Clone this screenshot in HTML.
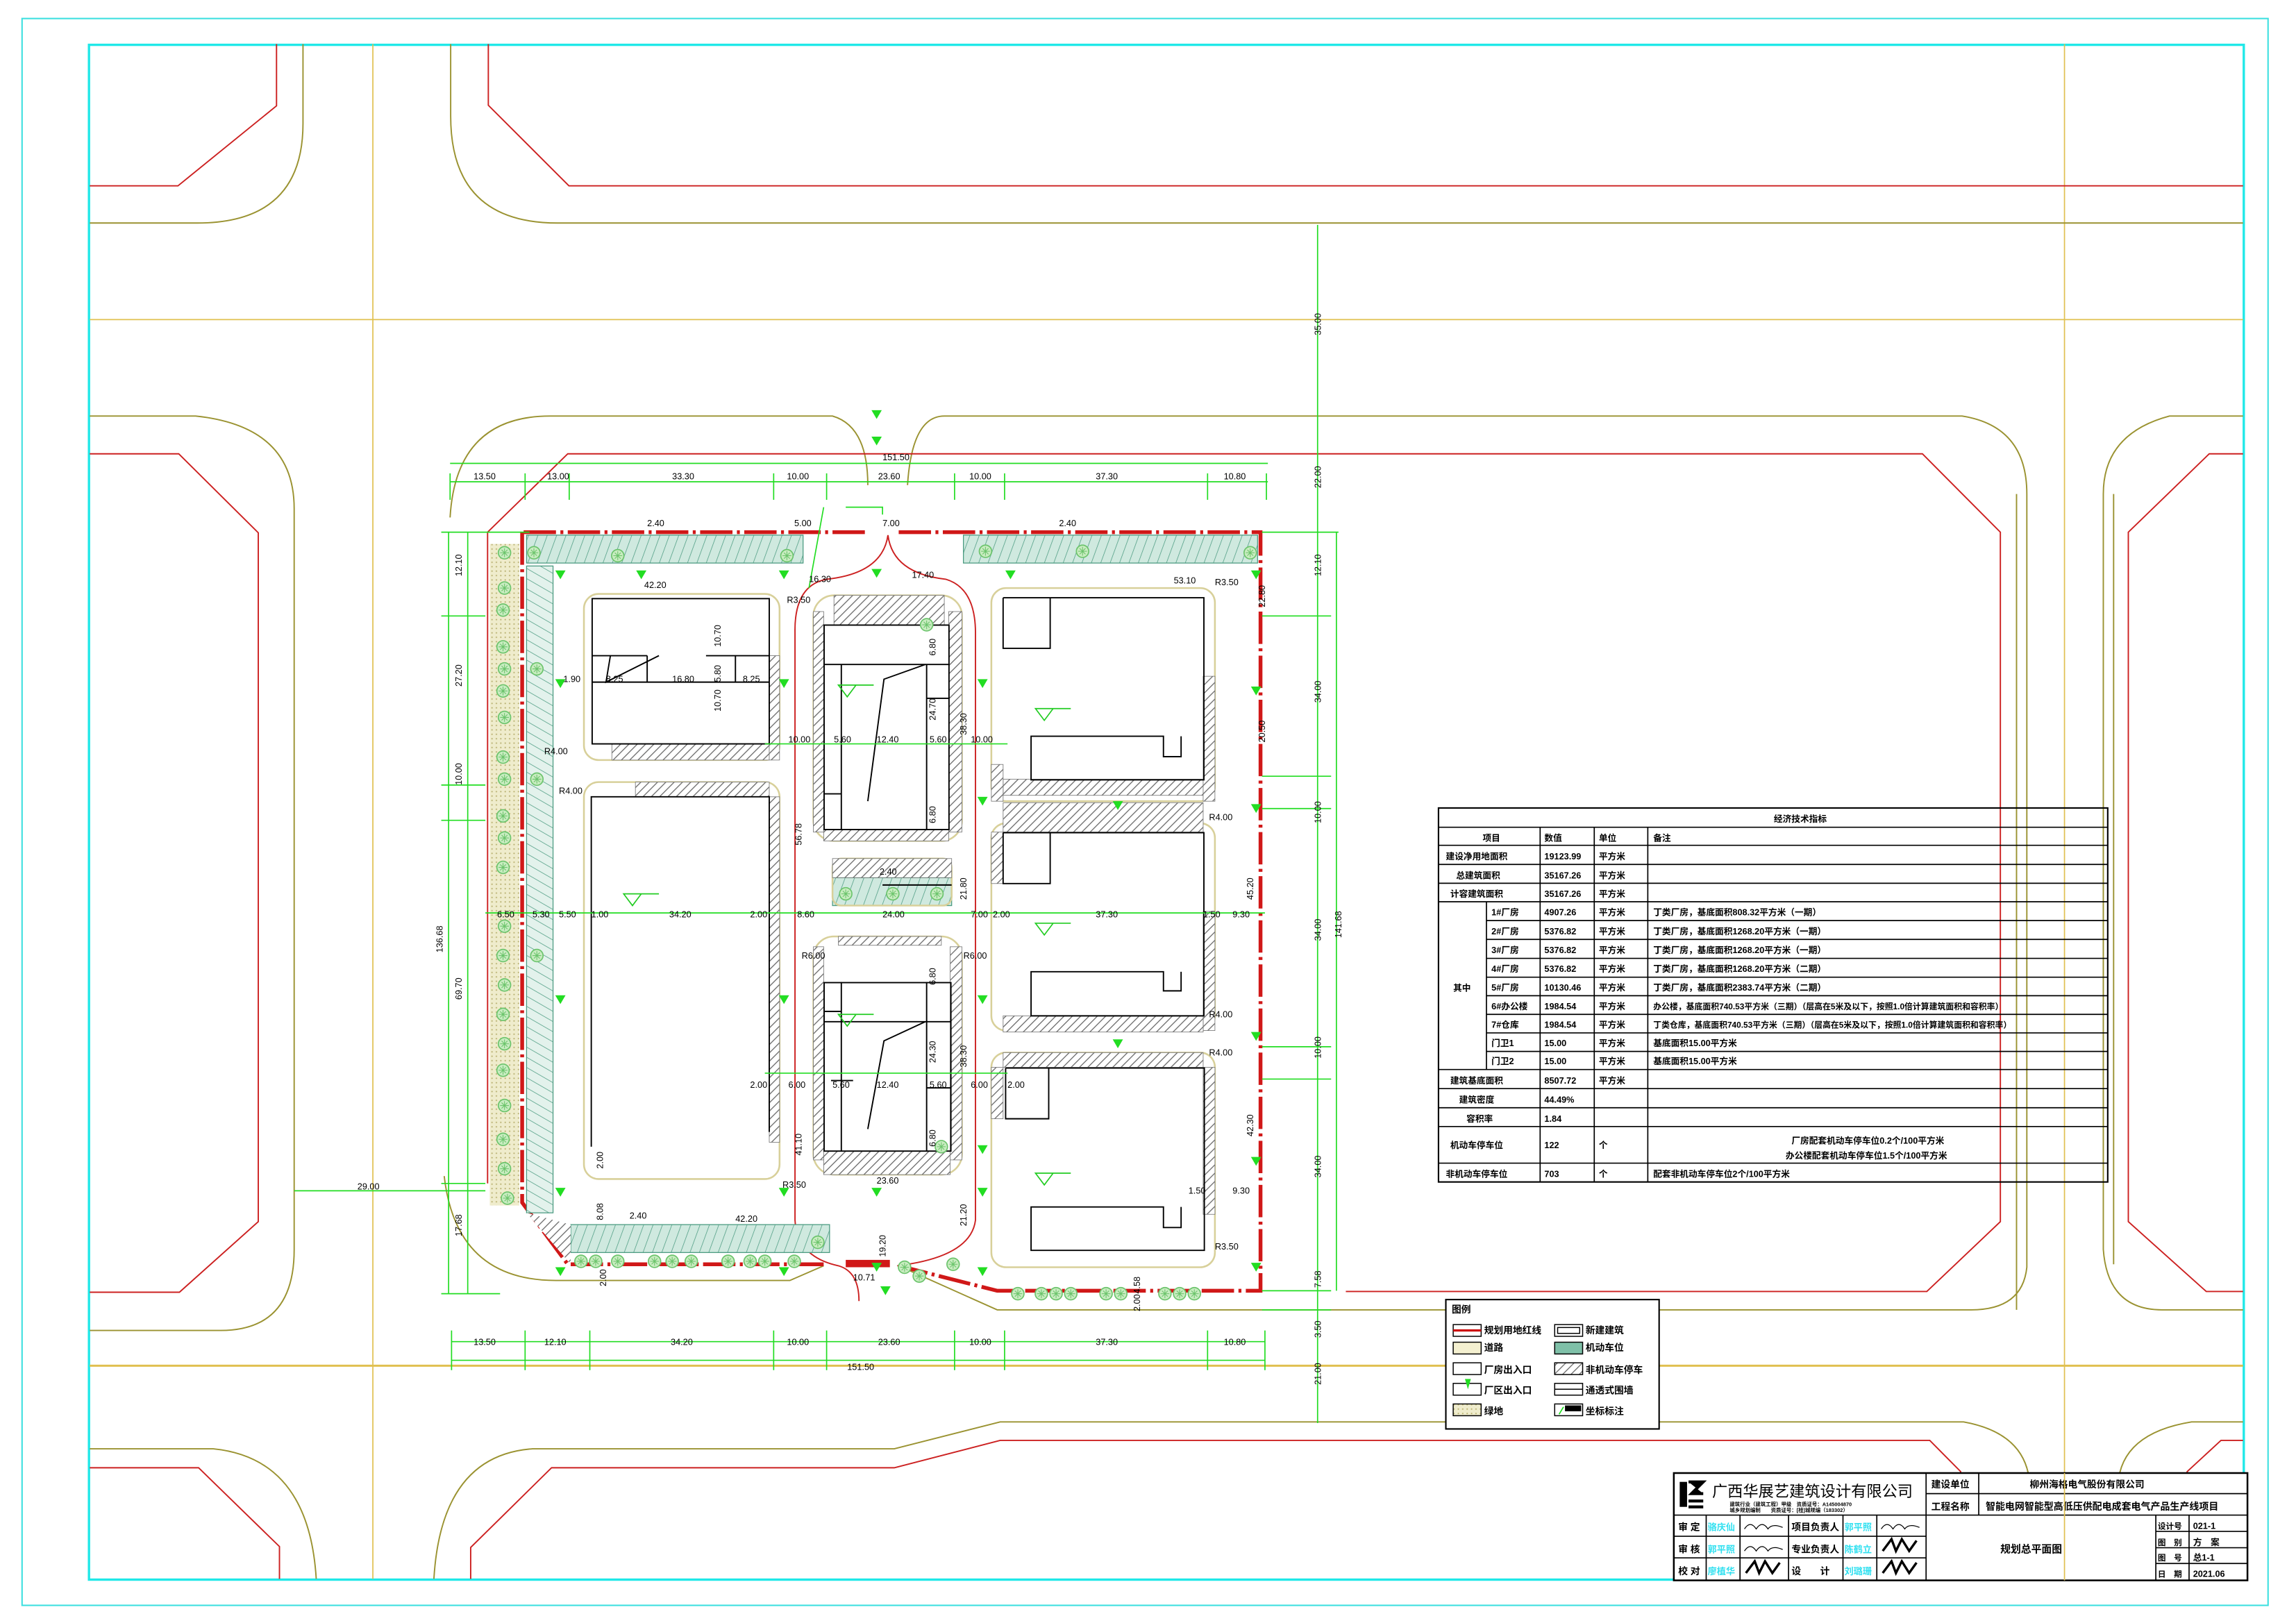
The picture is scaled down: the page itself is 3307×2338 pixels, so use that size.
<!DOCTYPE html>
<html><head><meta charset="utf-8"><style>
html,body{margin:0;padding:0;background:#fff;}
svg{display:block;}
text{font-family:"Liberation Sans Narrow","Liberation Sans","Noto Sans CJK SC",sans-serif;}
.cj{font-family:"Liberation Sans","Noto Sans CJK SC",sans-serif;font-weight:bold;}
.d{font-size:6px;fill:#000;}
</style></head><body>
<svg width="3307" height="2338" viewBox="0 0 1561 1104" preserveAspectRatio="none" xmlns="http://www.w3.org/2000/svg">
<defs>
<pattern id="hat" width="4" height="4" patternUnits="userSpaceOnUse" patternTransform="rotate(45)"><rect width="4" height="4" fill="#fff"/><line x1="0" y1="0" x2="0" y2="4" stroke="#666" stroke-width="1.2"/></pattern>
<pattern id="park" width="6" height="6" patternUnits="userSpaceOnUse" patternTransform="rotate(20)"><rect width="6" height="6" fill="#cfe9df"/><line x1="0" y1="0" x2="0" y2="6" stroke="#4a9a80" stroke-width="0.7"/></pattern>
<pattern id="parkv" width="6" height="6" patternUnits="userSpaceOnUse" patternTransform="rotate(-60)"><rect width="6" height="6" fill="#e3f2ec"/><line x1="0" y1="0" x2="0" y2="6" stroke="#4a9a80" stroke-width="0.7"/></pattern>
<pattern id="grn" width="3" height="3" patternUnits="userSpaceOnUse"><rect width="3" height="3" fill="#efeccc"/><circle cx="1.5" cy="1.5" r="0.5" fill="#b8b070"/></pattern>
<g id="tr"><circle r="4.2" fill="#c8ecc0" stroke="#6cc46c" stroke-width="0.8"/><path d="M-3,0H3M0,-3V3M-2,-2L2,2M2,-2L-2,2" stroke="#6cc46c" stroke-width="0.5"/></g>
<path id="tri" d="M-3.5,-3 L3.5,-3 L0,3Z" fill="#22dd22"/>
</defs>
<rect width="1561" height="1104" fill="#fff"/>
<rect x="15" y="12.6" width="1527" height="1079.4" fill="none" stroke="#40e0e0" stroke-width="1"/>
<rect x="60.5" y="30.5" width="1465" height="1044" fill="none" stroke="#20e8e8" stroke-width="1.6"/>

<g stroke="#e0c050" stroke-width="0.8" fill="none">
<line x1="61" y1="217.4" x2="1525" y2="217.4"/>
<line x1="61" y1="929" x2="1525" y2="929" stroke-width="1.4"/>
<line x1="253.5" y1="30" x2="253.5" y2="1074"/>
<line x1="1403.6" y1="30" x2="1403.6" y2="1074"/>
</g>
<g stroke="#9a9230" stroke-width="0.9" fill="none">
<path d="M206,30 V84 Q206,151.7 134,151.7 H61"/>
<path d="M306.4,30 V79 Q306.4,151.7 379,151.7 H1525"/>
<path d="M61,283 H133 Q200,290 200,346 V850 Q200,905 150,905 H61"/>
<path d="M306,352 Q310,283 374,283 H566 Q590,290 590,330"/>
<path d="M617,330 Q620,283 642,283 H1334 Q1378,290 1378,336 V862 Q1375,891 1340,891 H678 L611,861"/>
<path d="M1525,283 H1475 Q1430,295 1430,336 V850 Q1433,891 1470,891 H1525"/>
<path d="M302,800 Q310,871 378,871 H537 L560,861"/>
<path d="M61,985.5 H145 Q210,992 215,1074"/>
<path d="M295,1074 Q300,990 362,985.5 H608 L680,967.2 H1335 Q1378,975 1380,1010 V1074"/>
<path d="M1525,967.2 H1490 Q1442,975 1440,1010 V1074"/>
<line x1="1371" y1="336" x2="1371" y2="891"/><line x1="1437" y1="336" x2="1437" y2="860"/>
</g>
<g stroke="#cc2020" stroke-width="0.9" fill="none">
<path d="M188,30 V72 L121,126.4 H61"/>
<path d="M332,30 V71.6 L386.8,126.4 H1525"/>
<path d="M61,308.7 H121.5 L175.6,362.4 V831 L122,879 H61"/>
<path d="M331.5,805 V362 L386,308.7 H1307 L1360,362 V831 L1310,878.5 H915"/>
<path d="M1525,308.7 H1502 L1447,362 V831 L1500,878.5 H1525"/>
<path d="M61,998.4 H135 L190,1052 V1074"/>
<path d="M320,1074 V1052.6 L375,998.4 H608 L680,979.8 H1312 L1333,1001 V1074"/>
<path d="M1525,979.8 H1510 L1487,1001 V1074"/>
<path d="M603.7,364 Q600,390 562,394 Q540,398 540.5,430 V830 Q542,855 570,861 Q584,865 584,885"/>
<path d="M603.7,364 Q607,390 643,394 Q663,400 663.2,430 V830 Q660,855 610,861"/>
</g>
<path d="M356,362 H590 M611,362 H857 V878 H678 L611,861 M560,860 H386 L355,818 V362" stroke="#d01818" stroke-width="2.6" fill="none" stroke-dasharray="22,3,2,3"/>
<rect x="575" y="857" width="30" height="5" fill="#d01818"/>

<rect x="333" y="370" width="20" height="450" fill="url(#grn)"/>
<rect x="358" y="385" width="18" height="440" fill="url(#parkv)" stroke="#4a9a80" stroke-width="0.6"/>
<rect x="358" y="364" width="188" height="19" fill="url(#park)" stroke="#4a9a80" stroke-width="0.6"/>
<rect x="655" y="364" width="200" height="19" fill="url(#park)" stroke="#4a9a80" stroke-width="0.6"/>
<rect x="388" y="833" width="176" height="19" fill="url(#park)" stroke="#4a9a80" stroke-width="0.6"/>
<rect x="566" y="597" width="81" height="19" fill="url(#park)" stroke="#4a9a80" stroke-width="0.6"/>
<path d="M358,825 L388,860 L388,833 Z" fill="url(#hat)"/>

<g stroke="#d8d09a" stroke-width="1.2" fill="none">
<rect x="397" y="404" width="133" height="113" rx="10"/>
<rect x="397" y="532" width="133" height="270" rx="10"/>
<rect x="553" y="405" width="101" height="167" rx="14"/>
<rect x="553" y="637" width="101" height="162" rx="14"/>
<rect x="674" y="400" width="152" height="145" rx="10"/>
<rect x="674" y="560" width="152" height="141" rx="10"/>
<rect x="674" y="716" width="152" height="146" rx="10"/>
<rect x="566" y="584" width="81" height="32" rx="6"/>
</g>
<g fill="url(#hat)" stroke="#777" stroke-width="0.4">
<rect x="416" y="506" width="107" height="11"/><rect x="523" y="446" width="7" height="71"/>
<rect x="432" y="532" width="91" height="10"/><rect x="523" y="542" width="7" height="235"/>
<rect x="553" y="416" width="7" height="150"/><rect x="645" y="416" width="9" height="150"/><rect x="567" y="405" width="75" height="20"/><rect x="560" y="564" width="85" height="8"/>
<rect x="553" y="644" width="7" height="145"/><rect x="646" y="644" width="8" height="145"/><rect x="560" y="783" width="86" height="16"/><rect x="570" y="637" width="70" height="6"/>
<rect x="566" y="584" width="81" height="13"/>
<rect x="682" y="530" width="136" height="11"/><rect x="818" y="460" width="8" height="85"/><rect x="674" y="520" width="8" height="25"/>
<rect x="682" y="546" width="136" height="20"/><rect x="674" y="566" width="8" height="35"/><rect x="818" y="620" width="8" height="81"/>
<rect x="682" y="691" width="136" height="11"/><rect x="682" y="716" width="136" height="10"/><rect x="818" y="726" width="8" height="100"/><rect x="674" y="726" width="8" height="35"/>
</g>
<g stroke="#000" stroke-width="0.9" fill="none">
<rect x="402.6" y="407.2" width="120.4" height="98.8"/>
<path d="M402.6,446 H440 M480,446 H523 M402.6,464 H523 M440,446 V464 M500,446 V464"/>
<path d="M415,446 L412,464 L448,446"/>
<path d="M402,780 V542 H523 V770"/>
<rect x="560.3" y="425.2" width="84.9" height="139.1"/>
<path d="M560.3,452 H645.2 M572,452 V564 M630,452 V564 M560.3,540 H572 M630,475 H645.2"/>
<path d="M629,452 L601,462 L590,545"/>
<rect x="560.3" y="668.4" width="86.2" height="114.6"/>
<path d="M560.3,695 H646.5 M572,668 V783 M630,668 V783 M560.3,688 H572 M630,740 H646.5"/>
<path d="M629,695 L601,708 L590,768"/>
<path d="M682,406.6 H818.5 V530.5 H701 V500.8 H791 V514.7 H803 V500.8 M682,406.6 V441 H714 V406.6"/>
<path d="M682,566.4 H818.5 V691 H701 V661 H791 V674 H803 V661 M682,566.4 V601 H714 V566.4"/>
<path d="M683.7,726.5 H818.8 V850.5 H701 V821 H791 V835 H803 V821 M683.7,726.5 V761 H713 V726.5"/>
<path d="M600,602 H647 M565,735 H580"/>
</g>
<g fill="none" stroke="#22cc22" stroke-width="0.8">
<path d="M424,608 L430,616 L436,608 Z M424,608 H448"/><path d="M704,482 L710,490 L716,482 Z M704,482 H728"/>
<path d="M704,628 L710,636 L716,628 Z M704,628 H728"/><path d="M704,798 L710,806 L716,798 Z M704,798 H728"/>
<path d="M570,466 L576,474 L582,466 Z M570,466 H594"/><path d="M570,690 L576,698 L582,690 Z M570,690 H594"/>
</g>
<g>
<use href="#tr" x="343" y="376"/><use href="#tr" x="343" y="400"/><use href="#tr" x="342" y="415"/><use href="#tr" x="342" y="440"/><use href="#tr" x="343" y="455"/><use href="#tr" x="342" y="470"/><use href="#tr" x="343" y="488"/><use href="#tr" x="342" y="515"/><use href="#tr" x="343" y="530"/><use href="#tr" x="342" y="555"/><use href="#tr" x="343" y="570"/><use href="#tr" x="342" y="590"/><use href="#tr" x="343" y="630"/><use href="#tr" x="342" y="650"/><use href="#tr" x="343" y="670"/><use href="#tr" x="342" y="690"/><use href="#tr" x="343" y="710"/><use href="#tr" x="342" y="728"/><use href="#tr" x="343" y="752"/><use href="#tr" x="342" y="775"/><use href="#tr" x="343" y="795"/><use href="#tr" x="345" y="815"/>
<use href="#tr" x="363" y="376"/><use href="#tr" x="420" y="378"/><use href="#tr" x="535" y="378"/><use href="#tr" x="670" y="375"/><use href="#tr" x="736" y="375"/><use href="#tr" x="850" y="376"/><use href="#tr" x="365" y="455"/><use href="#tr" x="365" y="530"/><use href="#tr" x="365" y="650"/><use href="#tr" x="575" y="608"/><use href="#tr" x="607" y="608"/><use href="#tr" x="637" y="608"/><use href="#tr" x="630" y="425"/><use href="#tr" x="640" y="780"/>
<use href="#tr" x="395" y="858"/><use href="#tr" x="405" y="858"/><use href="#tr" x="420" y="858"/><use href="#tr" x="445" y="858"/><use href="#tr" x="457" y="858"/><use href="#tr" x="470" y="858"/><use href="#tr" x="495" y="858"/><use href="#tr" x="510" y="858"/><use href="#tr" x="520" y="858"/><use href="#tr" x="540" y="858"/><use href="#tr" x="556" y="845"/><use href="#tr" x="615" y="862"/><use href="#tr" x="625" y="868"/><use href="#tr" x="648" y="860"/>
<use href="#tr" x="692" y="880"/><use href="#tr" x="708" y="880"/><use href="#tr" x="718" y="880"/><use href="#tr" x="728" y="880"/><use href="#tr" x="752" y="880"/><use href="#tr" x="762" y="880"/><use href="#tr" x="792" y="880"/><use href="#tr" x="802" y="880"/><use href="#tr" x="812" y="880"/>
</g>
<g>
<use href="#tri" x="596" y="282"/><use href="#tri" x="596" y="300"/><use href="#tri" x="381" y="391"/><use href="#tri" x="436" y="391"/><use href="#tri" x="533" y="391"/><use href="#tri" x="596" y="390"/><use href="#tri" x="687" y="391"/><use href="#tri" x="854" y="391"/>
<use href="#tri" x="381" y="465"/><use href="#tri" x="533" y="465"/><use href="#tri" x="668" y="465"/><use href="#tri" x="854" y="470"/><use href="#tri" x="668" y="545"/><use href="#tri" x="760" y="548"/><use href="#tri" x="854" y="550"/>
<use href="#tri" x="381" y="680"/><use href="#tri" x="533" y="680"/><use href="#tri" x="668" y="680"/><use href="#tri" x="854" y="705"/><use href="#tri" x="760" y="710"/><use href="#tri" x="854" y="790"/><use href="#tri" x="381" y="811"/><use href="#tri" x="533" y="811"/><use href="#tri" x="596" y="811"/><use href="#tri" x="668" y="811"/>
<use href="#tri" x="381" y="865"/><use href="#tri" x="533" y="865"/><use href="#tri" x="596" y="862"/><use href="#tri" x="668" y="865"/><use href="#tri" x="854" y="862"/><use href="#tri" x="602" y="878"/><use href="#tri" x="668" y="782"/>
</g>
<g stroke="#22dd22" stroke-width="0.8" fill="none">
<line x1="895.8" y1="153" x2="895.8" y2="968"/><line x1="908.6" y1="362" x2="908.6" y2="878"/>
<line x1="306" y1="315.2" x2="862" y2="315.2"/><line x1="306" y1="327.7" x2="862" y2="327.7"/>
<line x1="307" y1="912.6" x2="860" y2="912.6"/><line x1="307" y1="925.3" x2="860" y2="925.3"/>
<path d="M306,322 V340 M357,322 V340 M387,322 V340 M526,322 V340 M562,322 V340 M649,322 V340 M683,322 V340 M821,322 V340 M861,322 V340"/>
<path d="M307,905 V932 M357,905 V932 M401,905 V932 M526,905 V932 M562,905 V932 M649,905 V932 M683,905 V932 M821,905 V932 M860,905 V932"/>
<line x1="305" y1="362" x2="305" y2="880"/><line x1="318" y1="362" x2="318" y2="880"/>
<path d="M300,362 H360 M300,419 H330 M300,534 H330 M300,558 H330 M300,805 H330 M300,880 H340"/>
<path d="M858,362 H910 M858,419 H905 M858,528 H905 M858,550 H905 M858,712 H905 M858,734 H905 M858,878 H905 M858,891 H905"/>
<line x1="330" y1="621" x2="860" y2="621"/>
<line x1="520" y1="506" x2="685" y2="506"/><line x1="520" y1="730" x2="685" y2="730"/>
<line x1="200" y1="810" x2="330" y2="810"/>
<path d="M575,345 H600 V350 M560,345 L550,400"/>
</g>
<g class="d">
<text x="600" y="313">151.50</text>
<text x="322" y="326">13.50</text><text x="372" y="326">13.00</text><text x="457" y="326">33.30</text><text x="535" y="326">10.00</text><text x="597" y="326">23.60</text><text x="659" y="326">10.00</text><text x="745" y="326">37.30</text><text x="832" y="326">10.80</text>
<text x="322" y="915">13.50</text><text x="370" y="915">12.10</text><text x="456" y="915">34.20</text><text x="535" y="915">10.00</text><text x="597" y="915">23.60</text><text x="659" y="915">10.00</text><text x="745" y="915">37.30</text><text x="832" y="915">10.80</text>
<text x="576" y="932">151.50</text>
<text x="440" y="358">2.40</text><text x="540" y="358">5.00</text><text x="600" y="358">7.00</text><text x="720" y="358">2.40</text>
<text x="438" y="400">42.20</text><text x="550" y="396">16.30</text><text x="620" y="393">17.40</text><text x="798" y="397">53.10</text>
<text x="383" y="464">1.90</text><text x="412" y="464">8.25</text><text x="457" y="464">16.80</text><text x="505" y="464">8.25</text>
<text x="536" y="505">10.00</text><text x="567" y="505">5.60</text><text x="596" y="505">12.40</text><text x="632" y="505">5.60</text><text x="660" y="505">10.00</text>
<text x="338" y="624">6.50</text><text x="362" y="624">5.30</text><text x="380" y="624">5.50</text><text x="402" y="624">1.00</text><text x="455" y="624">34.20</text><text x="510" y="624">2.00</text><text x="542" y="624">8.60</text><text x="600" y="624">24.00</text><text x="660" y="624">7.00</text><text x="675" y="624">2.00</text><text x="745" y="624">37.30</text><text x="818" y="624">1.50</text><text x="838" y="624">9.30</text>
<text x="510" y="740">2.00</text><text x="536" y="740">6.00</text><text x="566" y="740">5.60</text><text x="596" y="740">12.40</text><text x="632" y="740">5.60</text><text x="660" y="740">6.00</text><text x="685" y="740">2.00</text>
<text x="596" y="805">23.60</text><text x="500" y="831">42.20</text><text x="428" y="829">2.40</text><text x="808" y="812">1.50</text><text x="838" y="812">9.30</text><text x="580" y="871">10.71</text><text x="598" y="595">2.40</text>
<text x="370" y="513">R4.00</text><text x="380" y="540">R4.00</text><text x="822" y="558">R4.00</text><text x="822" y="692">R4.00</text><text x="822" y="718">R4.00</text><text x="826" y="398">R3.50</text><text x="826" y="850">R3.50</text><text x="532" y="808">R3.50</text><text x="545" y="652">R6.00</text><text x="655" y="652">R6.00</text><text x="535" y="410">R3.50</text>
<text x="243" y="809">29.00</text>
</g>
<g class="d">
<text transform="translate(898,228) rotate(-90)">35.00</text><text transform="translate(898,332) rotate(-90)">22.00</text><text transform="translate(898,392) rotate(-90)">12.10</text><text transform="translate(898,478) rotate(-90)">34.00</text><text transform="translate(898,560) rotate(-90)">10.00</text><text transform="translate(898,640) rotate(-90)">34.00</text><text transform="translate(898,720) rotate(-90)">10.00</text><text transform="translate(898,801) rotate(-90)">34.00</text><text transform="translate(898,876) rotate(-90)">7.58</text><text transform="translate(898,910) rotate(-90)">3.50</text><text transform="translate(898,942) rotate(-90)">21.00</text>
<text transform="translate(912,638) rotate(-90)">141.68</text>
<text transform="translate(860,413) rotate(-90)">22.80</text><text transform="translate(860,505) rotate(-90)">20.50</text><text transform="translate(852,612) rotate(-90)">45.20</text><text transform="translate(852,773) rotate(-90)">42.30</text>
<text transform="translate(314,392) rotate(-90)">12.10</text><text transform="translate(314,467) rotate(-90)">27.20</text><text transform="translate(314,534) rotate(-90)">10.00</text><text transform="translate(314,680) rotate(-90)">69.70</text><text transform="translate(314,841) rotate(-90)">17.68</text><text transform="translate(301,648) rotate(-90)">136.68</text>
<text transform="translate(490,440) rotate(-90)">10.70</text><text transform="translate(490,484) rotate(-90)">10.70</text><text transform="translate(490,464) rotate(-90)">5.80</text>
<text transform="translate(636,446) rotate(-90)">6.80</text><text transform="translate(636,490) rotate(-90)">24.70</text><text transform="translate(636,560) rotate(-90)">6.80</text><text transform="translate(657,500) rotate(-90)">38.30</text>
<text transform="translate(636,670) rotate(-90)">6.80</text><text transform="translate(636,723) rotate(-90)">24.30</text><text transform="translate(636,780) rotate(-90)">6.80</text><text transform="translate(657,726) rotate(-90)">38.30</text>
<text transform="translate(545,575) rotate(-90)">56.78</text><text transform="translate(545,786) rotate(-90)">41.10</text><text transform="translate(657,612) rotate(-90)">21.80</text><text transform="translate(657,834) rotate(-90)">21.20</text><text transform="translate(602,855) rotate(-90)">19.20</text>
<text transform="translate(410,795) rotate(-90)">2.00</text><text transform="translate(410,830) rotate(-90)">8.08</text><text transform="translate(412,875) rotate(-90)">2.00</text><text transform="translate(775,880) rotate(-90)">4.58</text><text transform="translate(775,892) rotate(-90)">2.00</text>
</g>

<g stroke="#000" fill="none">
<rect x="978" y="549.6" width="455" height="254.4" stroke-width="1"/>
<path stroke-width="0.8" d="M978,562.7H1433 M978,575H1433 M978,588H1433 M978,600.8H1433 M978,613.4H1433 M1010.6,626.2H1433 M1010.6,639H1433 M1010.6,651.9H1433 M1010.6,664.7H1433 M1010.6,677.3H1433 M1010.6,690H1433 M1010.6,702.6H1433 M1010.6,715.2H1433 M978,727.5H1433 M978,740.5H1433 M978,753.5H1433 M978,766.3H1433 M978,791.2H1433"/>
<path stroke-width="0.8" d="M1047.1,562.7V804 M1083.9,562.7V804 M1120.3,562.7V804 M1010.6,613.4V727.5"/>
</g>
<g class="cj" font-size="6" fill="#000">
<text x="1206" y="559">经济技术指标</text>
<text x="1008" y="572">项目</text><text x="1050" y="572">数值</text><text x="1087" y="572">单位</text><text x="1124" y="572">备注</text>
<text x="983" y="584.5">建设净用地面积</text><text x="1050" y="584.5">19123.99</text><text x="1087" y="584.5">平方米</text>
<text x="990" y="597.5">总建筑面积</text><text x="1050" y="597.5">35167.26</text><text x="1087" y="597.5">平方米</text>
<text x="986" y="610">计容建筑面积</text><text x="1050" y="610">35167.26</text><text x="1087" y="610">平方米</text>
<text x="988" y="674">其中</text>
<text x="1014" y="622.5">1#厂房</text><text x="1050" y="622.5">4907.26</text><text x="1087" y="622.5">平方米</text><text x="1124" y="622.5">丁类厂房，基底面积808.32平方米（一期）</text>
<text x="1014" y="635.5">2#厂房</text><text x="1050" y="635.5">5376.82</text><text x="1087" y="635.5">平方米</text><text x="1124" y="635.5">丁类厂房，基底面积1268.20平方米（一期）</text>
<text x="1014" y="648.3">3#厂房</text><text x="1050" y="648.3">5376.82</text><text x="1087" y="648.3">平方米</text><text x="1124" y="648.3">丁类厂房，基底面积1268.20平方米（一期）</text>
<text x="1014" y="661">4#厂房</text><text x="1050" y="661">5376.82</text><text x="1087" y="661">平方米</text><text x="1124" y="661">丁类厂房，基底面积1268.20平方米（二期）</text>
<text x="1014" y="673.8">5#厂房</text><text x="1050" y="673.8">10130.46</text><text x="1087" y="673.8">平方米</text><text x="1124" y="673.8">丁类厂房，基底面积2383.74平方米（二期）</text>
<text x="1014" y="686.5">6#办公楼</text><text x="1050" y="686.5">1984.54</text><text x="1087" y="686.5">平方米</text><text x="1124" y="686.5" font-size="5.6">办公楼，基底面积740.53平方米（三期）（层高在5米及以下，按照1.0倍计算建筑面积和容积率）</text>
<text x="1014" y="699">7#仓库</text><text x="1050" y="699">1984.54</text><text x="1087" y="699">平方米</text><text x="1124" y="699" font-size="5.6">丁类仓库，基底面积740.53平方米（三期）（层高在5米及以下，按照1.0倍计算建筑面积和容积率）</text>
<text x="1014" y="711.5">门卫1</text><text x="1050" y="711.5">15.00</text><text x="1087" y="711.5">平方米</text><text x="1124" y="711.5">基底面积15.00平方米</text>
<text x="1014" y="724">门卫2</text><text x="1050" y="724">15.00</text><text x="1087" y="724">平方米</text><text x="1124" y="724">基底面积15.00平方米</text>
<text x="986" y="737">建筑基底面积</text><text x="1050" y="737">8507.72</text><text x="1087" y="737">平方米</text>
<text x="992" y="750">建筑密度</text><text x="1050" y="750">44.49%</text>
<text x="997" y="763">容积率</text><text x="1050" y="763">1.84</text>
<text x="986" y="781">机动车停车位</text><text x="1050" y="781">122</text><text x="1087" y="781">个</text>
<text x="1218" y="778">厂房配套机动车停车位0.2个/100平方米</text><text x="1214" y="788">办公楼配套机动车停车位1.5个/100平方米</text>
<text x="983" y="800.5">非机动车停车位</text><text x="1050" y="800.5">703</text><text x="1087" y="800.5">个</text><text x="1124" y="800.5">配套非机动车停车位2个/100平方米</text>
</g>

<rect x="983" y="884" width="145" height="88" fill="#fff" stroke="#000" stroke-width="1"/>
<g class="cj" font-size="6.5" fill="#000">
<text x="987" y="893">图例</text>
<text x="1009" y="907">规划用地红线</text><text x="1009" y="919">道路</text><text x="1009" y="934">厂房出入口</text><text x="1009" y="948">厂区出入口</text><text x="1009" y="962">绿地</text>
<text x="1078" y="907">新建建筑</text><text x="1078" y="919">机动车位</text><text x="1078" y="934">非机动车停车</text><text x="1078" y="948">通透式围墙</text><text x="1078" y="962">坐标标注</text>
</g>
<g stroke="#000" stroke-width="0.7" fill="none">
<rect x="988" y="901" width="19" height="8"/><rect x="988" y="913" width="19" height="8" fill="#f4f0d0"/><rect x="988" y="927" width="19" height="8"/><rect x="988" y="941" width="19" height="8"/><rect x="988" y="955" width="19" height="8" fill="url(#grn)"/>
<rect x="1057" y="901" width="19" height="8"/><rect x="1057" y="913" width="19" height="8" fill="#7fc0a8"/><rect x="1057" y="927" width="19" height="8" fill="url(#hat)"/><rect x="1057" y="941" width="19" height="8"/><rect x="1057" y="955" width="19" height="8"/>
<rect x="1059" y="903" width="15" height="4"/>
<line x1="1057" y1="945" x2="1076" y2="945"/>
</g>
<line x1="988" y1="905" x2="1007" y2="905" stroke="#c00" stroke-width="1.5"/>
<rect x="1064" y="956" width="11" height="4" fill="#000"/><line x1="1060" y1="962" x2="1063" y2="957" stroke="#2d2" stroke-width="0.8"/>
<path d="M996,938 L998,945 L1000,938Z" fill="#2d2"/>

<rect x="1138" y="1002" width="390" height="73" fill="#fff" stroke="#000" stroke-width="1.2"/>
<g stroke="#000" stroke-width="0.8" fill="none">
<path d="M1309.5,1002V1075 M1138,1030.6H1528 M1309.5,1016H1528 M1345.3,1002V1030.6"/>
<path d="M1138,1045H1309.5 M1138,1059.7H1309.5 M1160,1030.6V1075 M1183,1030.6V1075 M1216,1030.6V1075 M1253,1030.6V1075 M1276,1030.6V1075"/>
<path d="M1465.7,1030.6V1075 M1488.3,1030.6V1075 M1465.7,1041.7H1528 M1465.7,1052.8H1528 M1465.7,1063.5H1528"/>
</g>
<rect x="1142" y="1008" width="5" height="17" fill="#000"/><path d="M1148,1008 H1158 L1150,1016 H1158 M1148,1021H1158 M1148,1025H1158" stroke="#000" stroke-width="2"/>
<g class="cj" fill="#000">
<text x="1164" y="1018" font-size="10.5" font-weight="normal">广西华展艺建筑设计有限公司</text>
<text x="1176" y="1024.5" font-size="3.5">建筑行业（建筑工程）甲级　资质证号：A145004870</text>
<text x="1176" y="1028.5" font-size="3.5">城乡规划编制　　资质证号：[桂]城规编（183302）</text>
<text x="1313" y="1012" font-size="6.5">建设单位</text><text x="1313" y="1027" font-size="6.5">工程名称</text>
<text x="1380" y="1012" font-size="6.5">柳州海格电气股份有限公司</text>
<text x="1350" y="1027" font-size="6.6">智能电网智能型高低压供配电成套电气产品生产线项目</text>
<text x="1141" y="1041" font-size="6.5">审 定</text><text x="1141" y="1056" font-size="6.5">审 核</text><text x="1141" y="1071" font-size="6.5">校 对</text>
<text x="1218" y="1041" font-size="6.5">项目负责人</text><text x="1218" y="1056" font-size="6.5">专业负责人</text><text x="1218" y="1071" font-size="6.5">设　　计</text>
<text x="1360" y="1056" font-size="7">规划总平面图</text>
<text x="1467" y="1040" font-size="5.5">设计号</text><text x="1491" y="1040" font-size="6">021-1</text>
<text x="1467" y="1051" font-size="5.5">图　别</text><text x="1491" y="1051" font-size="6">方　案</text>
<text x="1467" y="1061.5" font-size="5.5">图　号</text><text x="1491" y="1061.5" font-size="6">总1-1</text>
<text x="1467" y="1072.5" font-size="5.5">日　期</text><text x="1491" y="1072.5" font-size="6">2021.06</text>
</g>
<g class="cj" font-size="6.2" fill="#30e0f0">
<text x="1161" y="1041">骆庆仙</text><text x="1161" y="1056">郭平照</text><text x="1161" y="1071">廖植华</text>
<text x="1254" y="1041">郭平照</text><text x="1254" y="1056">陈鹤立</text><text x="1254" y="1071">刘璐珊</text>
</g>
<g stroke="#000" fill="none" stroke-width="0.6">
<path d="M1186,1040 q4,-6 8,0 q4,-6 8,0 q3,-4 10,-1"/><path d="M1186,1055 q4,-6 8,0 q4,-6 8,0 q3,-4 10,-1"/><path d="M1279,1040 q4,-6 8,0 q4,-6 8,0 q3,-4 10,-1"/>
<path d="M1187,1070 l6,-8 l3,8 l4,-8 l5,8 l5,-7" stroke-width="1.6"/><path d="M1280,1055 l6,-8 l3,8 l4,-8 l5,8 l5,-7" stroke-width="1.6"/><path d="M1280,1070 l6,-8 l3,8 l4,-8 l5,8 l5,-7" stroke-width="1.6"/>
</g>
<line x1="1403.6" y1="1002" x2="1403.6" y2="1075" stroke="#e0c050" stroke-width="0.8"/>
</svg>
</body></html>
